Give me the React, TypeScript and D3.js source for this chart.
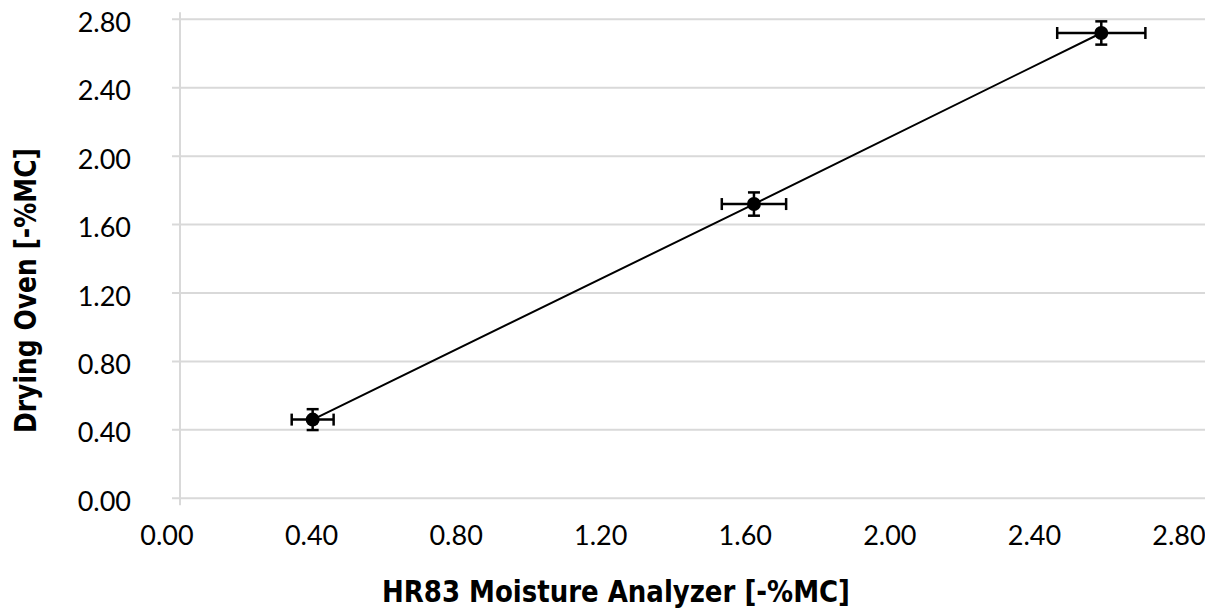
import React, { useEffect, useRef } from 'react';
import * as d3 from 'd3';

// measured values (HR83 vs drying oven)
const analyzerValues = [0.403, 1.624, 2.585];
const ovenValues = [0.46, 1.72, 2.72];
const analyzerErrors = [0.058, 0.089, 0.122];
const ovenErrors = [0.061, 0.068, 0.068];
const tickValues = [0, 0.4, 0.8, 1.2, 1.6, 2.0, 2.4, 2.8];
const xTitle = 'HR83 Moisture Analyzer [-%MC]';
const yTitle = 'Drying Oven [-%MC]';

const W = 1205;
const H = 611;

function App() {
  const svgRef = useRef<SVGSVGElement | null>(null);

  useEffect(() => {
    const svg = d3.select(svgRef.current);
    svg.selectAll('*').remove();

    const xScale = d3.scaleLinear().domain([0, 2.8]).range([167, 1179]);
    const yScale = d3.scaleLinear().domain([0, 2.8]).range([498.3, 19.3]);
    const axisX = 180;
    const gridColor = '#d9d9d9';
    const tickFont = 'Lato, "Open Sans", "DejaVu Sans", sans-serif';
    const titleFont = '"DejaVu Sans", sans-serif';

    // horizontal gridlines
    svg.append('g')
      .selectAll('line')
      .data(tickValues)
      .enter().append('line')
      .attr('x1', axisX - 8)
      .attr('x2', W)
      .attr('y1', d => yScale(d))
      .attr('y2', d => yScale(d))
      .attr('stroke', gridColor)
      .attr('stroke-width', 2);

    // vertical axis line
    svg.append('line')
      .attr('x1', axisX)
      .attr('x2', axisX)
      .attr('y1', yScale(2.8) - 7)
      .attr('y2', yScale(0) + 7)
      .attr('stroke', gridColor)
      .attr('stroke-width', 2);

    // y tick labels
    svg.append('g')
      .selectAll('text')
      .data(tickValues)
      .enter().append('text')
      .attr('x', 131)
      .attr('y', d => yScale(d) + 2)
      .attr('text-anchor', 'end')
      .attr('dominant-baseline', 'central')
      .attr('font-family', tickFont)
      .attr('font-size', 27)
      .attr('fill', '#000')
      .text(d => d.toFixed(2));

    // x tick labels
    svg.append('g')
      .selectAll('text')
      .data(tickValues)
      .enter().append('text')
      .attr('x', d => xScale(d))
      .attr('y', 545)
      .attr('text-anchor', 'middle')
      .attr('font-family', tickFont)
      .attr('font-size', 27)
      .attr('fill', '#000')
      .text(d => d.toFixed(2));

    const points = analyzerValues.map((x, i) => ({
      x, y: ovenValues[i], ex: analyzerErrors[i], ey: ovenErrors[i],
    }));

    // connecting line
    const line = d3.line<{ x: number; y: number }>()
      .x(d => xScale(d.x))
      .y(d => yScale(d.y));
    svg.append('path')
      .datum(points)
      .attr('d', line)
      .attr('fill', 'none')
      .attr('stroke', '#000')
      .attr('stroke-width', 2);

    // error bars
    const cap = 6;
    const eb = svg.append('g').attr('stroke', '#000').attr('stroke-width', 2.5);
    points.forEach(p => {
      const cx = xScale(p.x);
      const cy = yScale(p.y);
      const x0 = xScale(p.x - p.ex);
      const x1 = xScale(p.x + p.ex);
      const y0 = yScale(p.y - p.ey);
      const y1 = yScale(p.y + p.ey);
      eb.append('line').attr('x1', x0).attr('x2', x1).attr('y1', cy).attr('y2', cy);
      eb.append('line').attr('x1', x0).attr('x2', x0).attr('y1', cy - cap).attr('y2', cy + cap);
      eb.append('line').attr('x1', x1).attr('x2', x1).attr('y1', cy - cap).attr('y2', cy + cap);
      eb.append('line').attr('x1', cx).attr('x2', cx).attr('y1', y0).attr('y2', y1);
      eb.append('line').attr('x1', cx - cap).attr('x2', cx + cap).attr('y1', y0).attr('y2', y0);
      eb.append('line').attr('x1', cx - cap).attr('x2', cx + cap).attr('y1', y1).attr('y2', y1);
    });

    // markers
    svg.append('g')
      .selectAll('circle')
      .data(points)
      .enter().append('circle')
      .attr('cx', d => xScale(d.x))
      .attr('cy', d => yScale(d.y))
      .attr('r', 7)
      .attr('fill', '#000');

    // axis titles
    svg.append('text')
      .attr('x', 616)
      .attr('y', 602)
      .attr('text-anchor', 'middle')
      .attr('font-family', titleFont)
      .attr('font-stretch', 'condensed')
      .attr('font-weight', 'bold')
      .attr('font-size', 30)
      .attr('textLength', 468)
      .attr('lengthAdjust', 'spacingAndGlyphs')
      .text(xTitle);

    svg.append('text')
      .attr('transform', 'translate(36,290.5) rotate(-90)')
      .attr('text-anchor', 'middle')
      .attr('font-family', titleFont)
      .attr('font-stretch', 'condensed')
      .attr('font-weight', 'bold')
      .attr('font-size', 30)
      .attr('textLength', 285)
      .attr('lengthAdjust', 'spacingAndGlyphs')
      .text(yTitle);
  }, []);

  return (
    <svg
      ref={svgRef}
      width={W}
      height={H}
      style={{ position: 'absolute', left: 0, top: 0, background: '#fff' }}
    />
  );
}

export default App;
